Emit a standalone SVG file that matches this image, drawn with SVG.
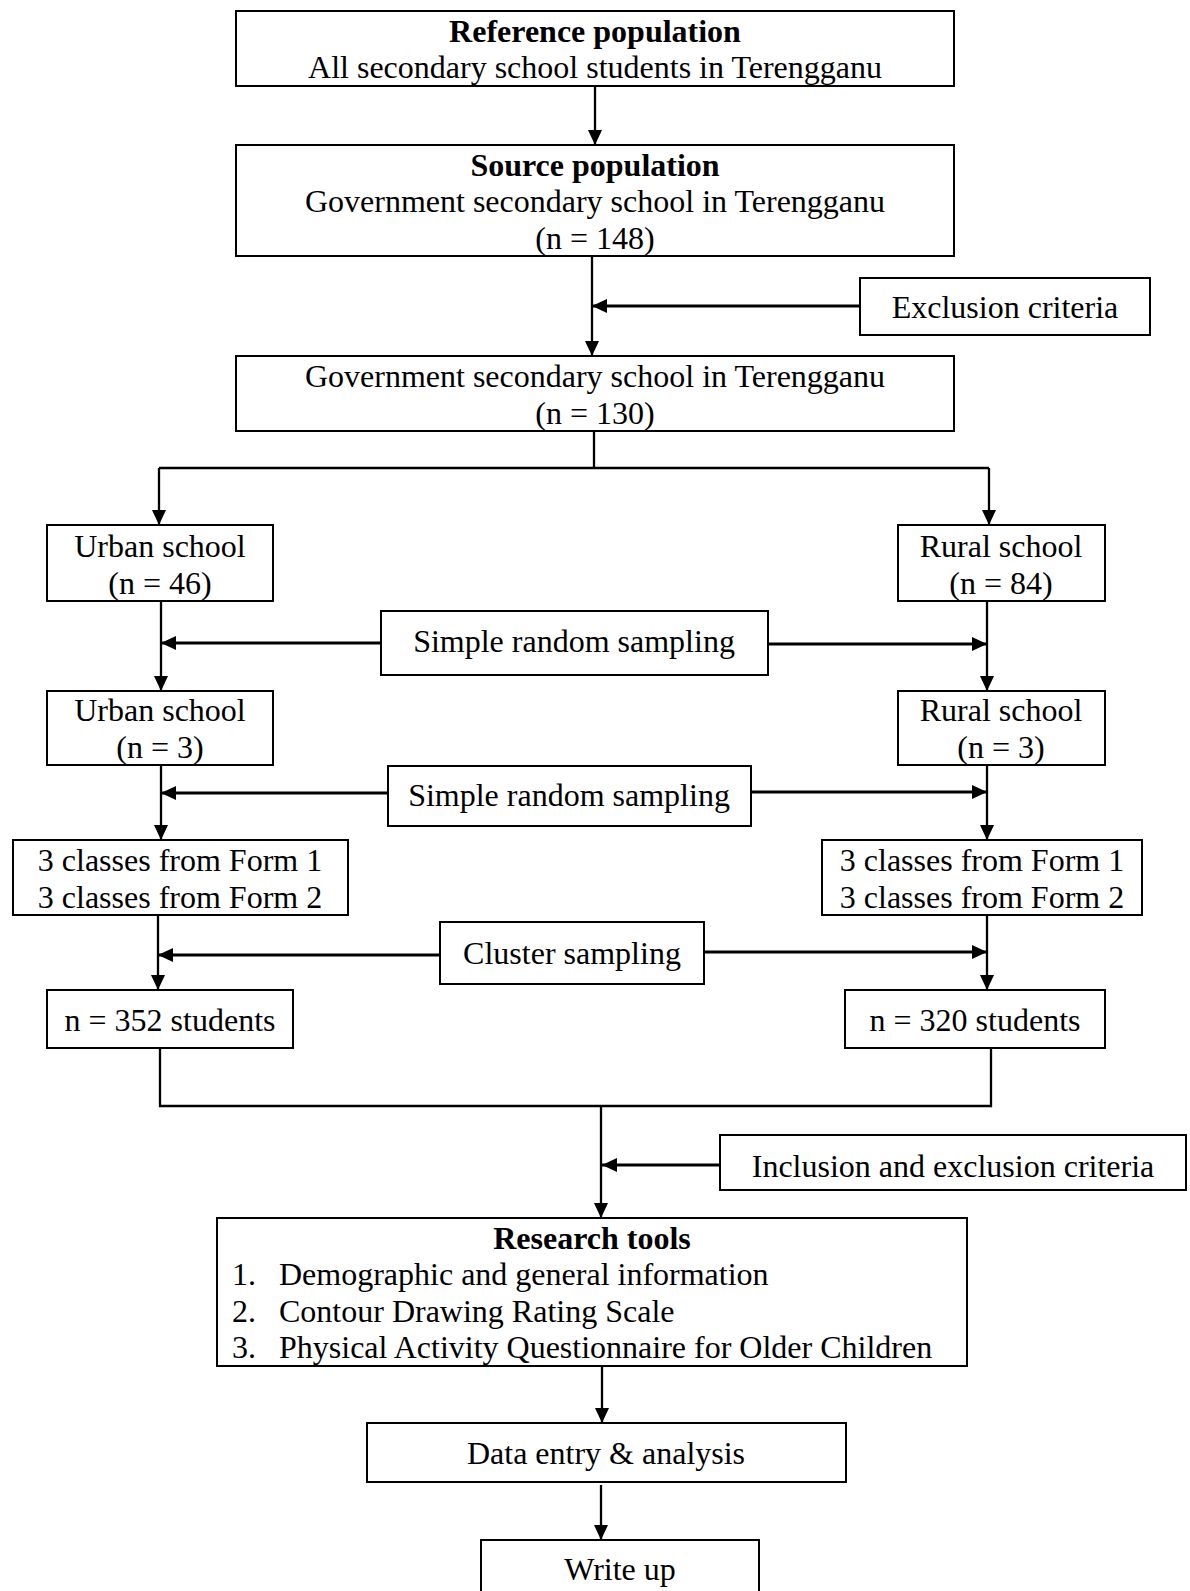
<svg xmlns="http://www.w3.org/2000/svg" width="1190" height="1591" viewBox="0 0 1190 1591">
<style>
.box{fill:#fff;stroke:#000;stroke-width:2}
.t{font-family:"Liberation Serif","Times New Roman",serif;font-size:32px;fill:#000;text-anchor:middle}
.b{font-weight:bold}
.l{text-anchor:start}
.c{fill:none;stroke:#000;stroke-width:2.3}
.a{marker-end:url(#ah)}
.th{stroke-width:3}
</style>
<defs>
<marker id="ah" viewBox="0 0 15 14" refX="15" refY="7" markerWidth="15" markerHeight="14" markerUnits="userSpaceOnUse" orient="auto">
<path d="M0,0 L15,7 L0,14 z" fill="#000"/>
</marker>
</defs>
<rect width="1190" height="1591" fill="#fff"/>
<g id="connectors">
<path class="c a" d="M595,86 V145"/>
<path class="c a" d="M592,256 V356"/>
<path class="c th a" d="M860,306 H592"/>
<path class="c" d="M594,431 V468 M159,468 H989"/>
<path class="c a" d="M159,468 V525"/>
<path class="c a" d="M989,468 V525"/>
<path class="c a" d="M161,601 V691"/>
<path class="c a" d="M987,601 V691"/>
<path class="c th a" d="M381,643 H161"/>
<path class="c th a" d="M768,644 H987"/>
<path class="c a" d="M161,765 V840"/>
<path class="c a" d="M987,765 V840"/>
<path class="c th a" d="M388,793 H161"/>
<path class="c th a" d="M751,792 H987"/>
<path class="c a" d="M158,915 V990"/>
<path class="c a" d="M987,915 V990"/>
<path class="c th a" d="M440,955 H158"/>
<path class="c th a" d="M704,952 H987"/>
<path class="c" d="M160,1048 V1106 H991 V1048"/>
<path class="c a" d="M601,1106 V1218"/>
<path class="c th a" d="M720,1165 H602"/>
<path class="c a" d="M602,1366 V1423"/>
<path class="c a" d="M601,1485 V1540"/>
</g>
<g id="n-reference">
<rect class="box" x="236" y="11" width="718" height="75"/>
<text class="t b" x="595" y="42">Reference population</text>
<text class="t" x="595" y="78">All secondary school students in Terengganu</text>
</g>
<g id="n-source">
<rect class="box" x="236" y="145" width="718" height="111"/>
<text class="t b" x="595" y="176">Source population</text>
<text class="t" x="595" y="212">Government secondary school in Terengganu</text>
<text class="t" x="595" y="249">(n = 148)</text>
</g>
<g id="n-exclusion">
<rect class="box" x="860" y="278" width="290" height="57"/>
<text class="t" x="1005" y="318">Exclusion criteria</text>
</g>
<g id="n-gov130">
<rect class="box" x="236" y="356" width="718" height="75"/>
<text class="t" x="595" y="387">Government secondary school in Terengganu</text>
<text class="t" x="595" y="424">(n = 130)</text>
</g>
<g id="n-urban46">
<rect class="box" x="47" y="525" width="226" height="76"/>
<text class="t" x="160" y="557">Urban school</text>
<text class="t" x="160" y="594">(n = 46)</text>
</g>
<g id="n-rural84">
<rect class="box" x="898" y="525" width="207" height="76"/>
<text class="t" x="1001" y="557">Rural school</text>
<text class="t" x="1001" y="594">(n = 84)</text>
</g>
<g id="n-srs1">
<rect class="box" x="381" y="611" width="387" height="64"/>
<text class="t" x="574" y="652">Simple random sampling</text>
</g>
<g id="n-urban3">
<rect class="box" x="47" y="691" width="226" height="74"/>
<text class="t" x="160" y="721">Urban school</text>
<text class="t" x="160" y="758">(n = 3)</text>
</g>
<g id="n-rural3">
<rect class="box" x="898" y="691" width="207" height="74"/>
<text class="t" x="1001" y="721">Rural school</text>
<text class="t" x="1001" y="758">(n = 3)</text>
</g>
<g id="n-srs2">
<rect class="box" x="388" y="766" width="363" height="60"/>
<text class="t" x="569" y="806">Simple random sampling</text>
</g>
<g id="n-classes-left">
<rect class="box" x="13" y="840" width="335" height="75"/>
<text class="t" x="180" y="871">3 classes from Form 1</text>
<text class="t" x="180" y="908">3 classes from Form 2</text>
</g>
<g id="n-classes-right">
<rect class="box" x="822" y="840" width="320" height="75"/>
<text class="t" x="982" y="871">3 classes from Form 1</text>
<text class="t" x="982" y="908">3 classes from Form 2</text>
</g>
<g id="n-cluster">
<rect class="box" x="440" y="922" width="264" height="62"/>
<text class="t" x="572" y="964">Cluster sampling</text>
</g>
<g id="n-352">
<rect class="box" x="47" y="990" width="246" height="58"/>
<text class="t" x="170" y="1031">n = 352 students</text>
</g>
<g id="n-320">
<rect class="box" x="845" y="990" width="260" height="58"/>
<text class="t" x="975" y="1031">n = 320 students</text>
</g>
<g id="n-inclusion">
<rect class="box" x="720" y="1135" width="466" height="55"/>
<text class="t" x="953" y="1177">Inclusion and exclusion criteria</text>
</g>
<g id="n-tools">
<rect class="box" x="217" y="1218" width="750" height="148"/>
<text class="t b" x="592" y="1249">Research tools</text>
<text class="t l" x="232" y="1285">1.</text>
<text class="t l" x="279" y="1285">Demographic and general information</text>
<text class="t l" x="232" y="1322">2.</text>
<text class="t l" x="279" y="1322">Contour Drawing Rating Scale</text>
<text class="t l" x="232" y="1358">3.</text>
<text class="t l" x="279" y="1358">Physical Activity Questionnaire for Older Children</text>
</g>
<g id="n-data">
<rect class="box" x="367" y="1423" width="479" height="59"/>
<text class="t" x="606" y="1464">Data entry &amp; analysis</text>
</g>
<g id="n-write">
<rect class="box" x="481" y="1540" width="278" height="70"/>
<text class="t" x="620" y="1580">Write up</text>
</g>
</svg>
